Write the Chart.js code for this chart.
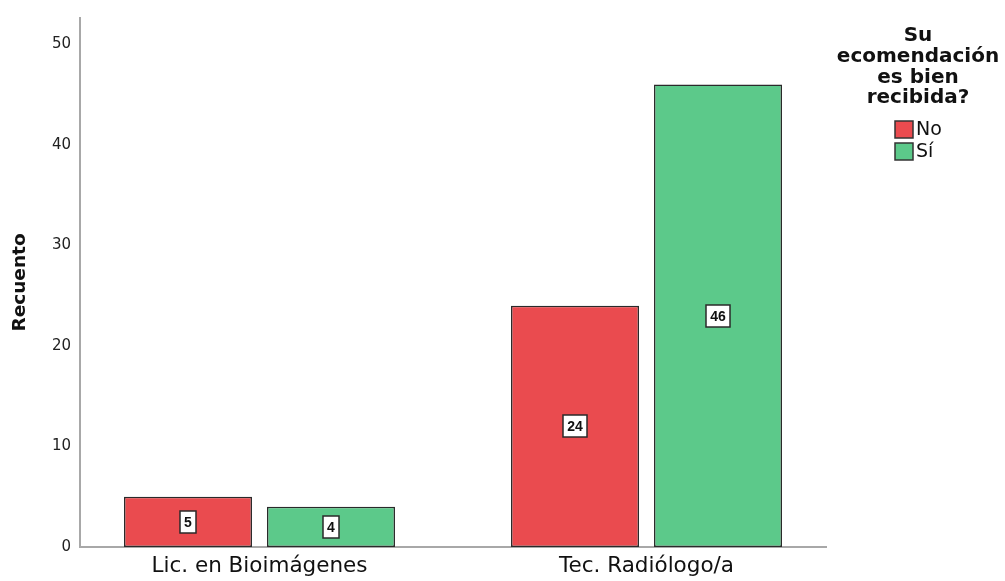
<!DOCTYPE html>
<html>
<head>
<meta charset="utf-8">
<script src="https://cdn.jsdelivr.net/npm/chart.js@4"></script>
<style>
  html, body { margin: 0; padding: 0; background: #ffffff; }
  #wrap { width: 1005px; height: 581px; position: relative; }
</style>
</head>
<body>
<div id="wrap"><canvas id="chart" width="1005" height="581"></canvas></div>
<script>
// Categories (x positions 0 and 1 on a linear axis)
const categories = ['Lic. en Bioimágenes', 'Tec. Radiólogo/a'];
const categoryPositions = [0, 1];

// Counts per answer
const seriesNames = ['No', 'Sí'];
const noValues = [5, 24];
const siValues = [4, 46];

// Y tick values
const yTicks = [0, 10, 20, 30, 40, 50];

const legendTitle = ['Su', 'ecomendación', 'es bien', 'recibida?'];
const axisTitle = 'Recuento';

const fillColors = ['#EA4B4F', '#5CC98A'];

function points(values) {
  return values.map((v, i) => ({ x: categoryPositions[i], y: v }));
}

// White value boxes in the middle of each bar
const valueBoxes = {
  id: 'valueBoxes',
  afterDatasetsDraw(chart) {
    const ctx = chart.ctx;
    ctx.save();
    ctx.font = 'bold 14px "Liberation Sans", Arial, sans-serif';
    ctx.textAlign = 'center';
    ctx.textBaseline = 'middle';
    chart.data.datasets.forEach((ds, di) => {
      const meta = chart.getDatasetMeta(di);
      meta.data.forEach((bar, i) => {
        const v = ds.data[i].y;
        const text = String(v);
        const cx = Math.round(bar.x);
        const cy = Math.round((bar.y + bar.base) / 2);
        const w = Math.round(ctx.measureText(text).width) + 8;
        const h = 22;
        ctx.fillStyle = '#ffffff';
        ctx.fillRect(cx - w / 2, cy - h / 2, w, h);
        ctx.strokeStyle = '#2a2a2a';
        ctx.lineWidth = 1.5;
        ctx.strokeRect(cx - w / 2, cy - h / 2, w, h);
        ctx.fillStyle = '#111111';
        ctx.fillText(text, cx, cy + 1);
      });
    });
    ctx.restore();
  }
};

// Legend with a multi-line centred title at the right
const sideLegend = {
  id: 'sideLegend',
  afterDraw(chart) {
    const ctx = chart.ctx;
    ctx.save();
    const cx = 918;
    ctx.font = 'bold 20px "DejaVu Sans", sans-serif';
    ctx.textAlign = 'center';
    ctx.textBaseline = 'middle';
    ctx.fillStyle = '#111111';
    legendTitle.forEach((line, i) => {
      ctx.fillText(line, cx, 36 + i * 20.7);
    });
    ctx.font = '19px "DejaVu Sans", sans-serif';
    ctx.textAlign = 'left';
    chart.data.datasets.forEach((ds, i) => {
      const y = 121 + i * 22;
      ctx.fillStyle = ds.backgroundColor;
      ctx.fillRect(895, y, 18, 17);
      ctx.strokeStyle = '#333333';
      ctx.lineWidth = 1.5;
      ctx.strokeRect(895, y, 18, 17);
      ctx.fillStyle = '#111111';
      ctx.fillText(ds.label, 916, y + 9);
    });
    ctx.restore();
  }
};

new Chart(document.getElementById('chart'), {
  type: 'bar',
  data: {
    datasets: [
      {
        label: seriesNames[0],
        data: points(noValues),
        backgroundColor: fillColors[0],
        borderColor: '#2a2a2a',
        borderWidth: 1.5,
        borderSkipped: false,
        categoryPercentage: 0.739,
        barPercentage: 0.895
      },
      {
        label: seriesNames[1],
        data: points(siValues),
        backgroundColor: fillColors[1],
        borderColor: '#2a2a2a',
        borderWidth: 1.5,
        borderSkipped: false,
        categoryPercentage: 0.739,
        barPercentage: 0.895
      }
    ]
  },
  options: {
    responsive: false,
    animation: false,
    layout: { padding: { top: 16, right: 179, left: 0, bottom: 0 } },
    plugins: {
      legend: { display: false },
      tooltip: { enabled: false }
    },
    scales: {
      x: {
        type: 'linear',
        offset: false,
        bounds: 'ticks',
        min: -0.4638,
        max: 1.4638,
        grid: { display: false, drawTicks: false, offset: false },
        border: { display: true, color: '#a8a8a8', width: 2 },
        afterBuildTicks(scale) {
          scale.ticks = categoryPositions.map(v => ({ value: v }));
        },
        afterFit(scale) { scale.height = 34; },
        ticks: {
          padding: 7,
          autoSkip: false,
          maxRotation: 0,
          color: '#111111',
          font: { family: '"DejaVu Sans", sans-serif', size: 21.5 },
          callback: (v) => categories[categoryPositions.indexOf(v)]
        }
      },
      y: {
        min: 0,
        max: 52.6,
        grid: { display: false, drawTicks: false },
        border: { display: true, color: '#a8a8a8', width: 2 },
        afterBuildTicks(scale) {
          scale.ticks = yTicks.map(v => ({ value: v }));
        },
        afterFit(scale) { scale.width = 80; },
        ticks: {
          padding: 9,
          color: '#222222',
          font: { family: '"DejaVu Sans", sans-serif', size: 15 }
        },
        title: {
          display: true,
          text: axisTitle,
          color: '#111111',
          padding: { top: 9, bottom: 0 },
          font: { family: '"DejaVu Sans", sans-serif', size: 18.5, weight: 'bold' }
        }
      }
    }
  },
  plugins: [valueBoxes, sideLegend]
});
</script>
</body>
</html>
